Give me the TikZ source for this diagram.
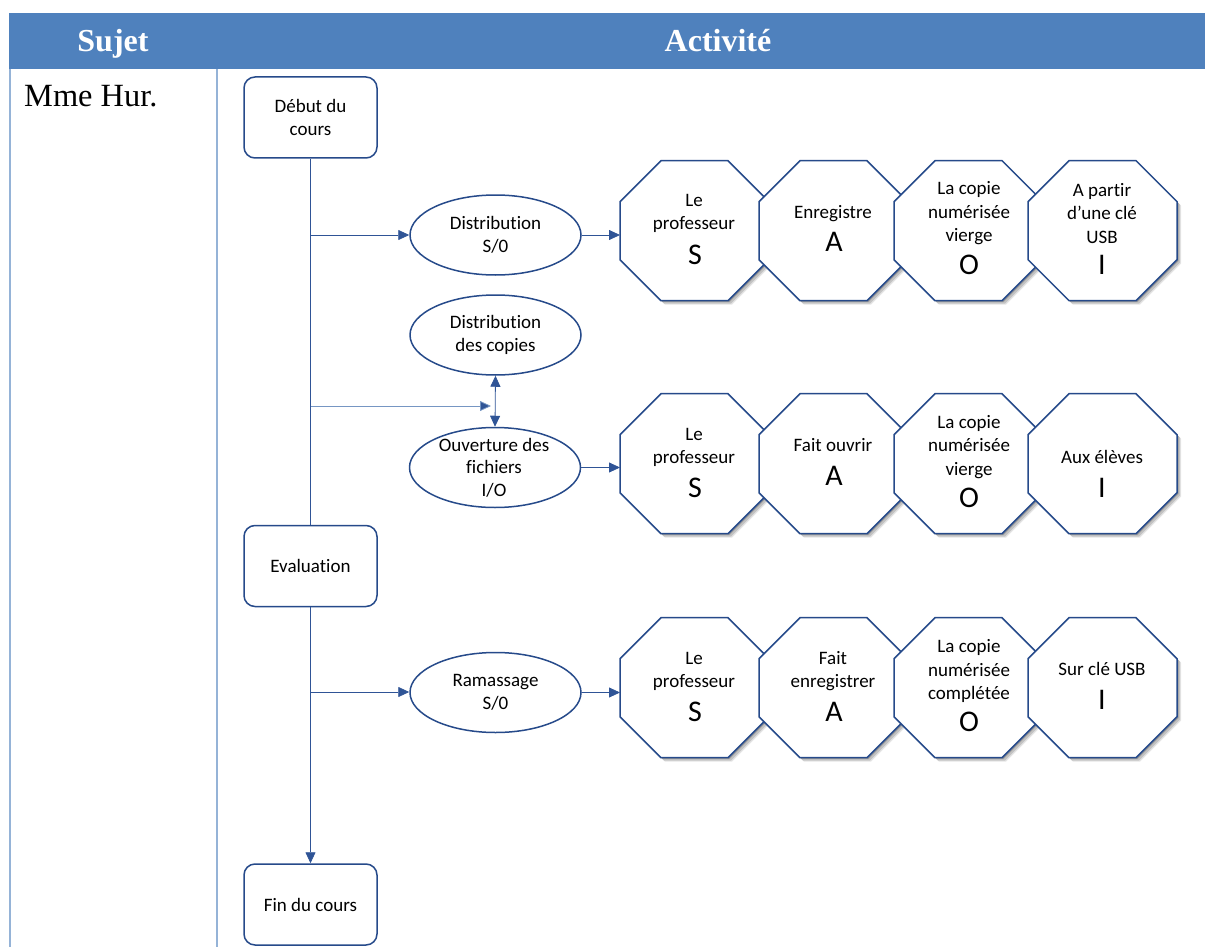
\documentclass[tikz,border=0pt]{standalone}
\usepackage{fontspec}
\setmainfont{Liberation Serif}
\newfontfamily\calfont[Ligatures=NoCommon]{Carlito}
\usetikzlibrary{shapes.geometric,shadows,arrows.meta}
\definecolor{hdr}{HTML}{4F81BD}
\definecolor{rulec}{HTML}{95B3D7}
\definecolor{edgec}{HTML}{2F5496}
\definecolor{outl}{HTML}{264A8A}
\tikzset{
  boxn/.style={draw=outl,line width=1.5pt,fill=white,rounded corners=11pt,minimum width=133pt,minimum height=81pt,inner sep=0pt,align=center,font=\calfont\fontsize{19}{23.5}\selectfont},
  ell/.style={ellipse,draw=outl,line width=1.5pt,fill=white,minimum width=171pt,minimum height=80pt,inner sep=0pt,align=center,font=\calfont\fontsize{19}{23.5}\selectfont},
  octframe/.style={rectangle,minimum width=149pt,minimum height=140pt,inner sep=0pt,outer sep=0pt},
  octline/.style={draw=outl,line width=1.5pt,fill=white,
    drop shadow={shadow xshift=4pt,shadow yshift=-4pt,fill=black,opacity=.10},
    drop shadow={shadow xshift=3pt,shadow yshift=-3pt,fill=black,opacity=.15},
    drop shadow={shadow xshift=1.5pt,shadow yshift=-1.5pt,fill=black,opacity=.2}},
  otxt/.style={align=center,inner sep=0pt,font=\calfont\fontsize{19}{23.5}\selectfont},
  big/.style={inner sep=0pt,font=\calfont\fontsize{30}{32}\selectfont},
  arr/.style={draw=edgec,line width=.8pt,-{Triangle[length=11pt,width=10pt,fill=edgec]}},
  lin/.style={draw=edgec,line width=.8pt},
  tb/.style={draw=rulec,line width=1.5pt},
  hd/.style={text=white,inner sep=0pt,font=\bfseries\fontsize{32}{36}\selectfont}
}
\begin{document}
\begin{tikzpicture}[x=1pt,y=-1pt]
\useasboundingbox (0,0) rectangle (1205,947);
\fill[hdr] (9,13) rectangle (1205,69);
\node[hd] (sujet) at (113,44) {Sujet};
\node[hd] (activite) at (718,41) {Activité};
\draw[tb] (10,69) -- (10,947);
\draw[tb] (217,69) -- (217,947);
\node[inner sep=0pt,anchor=west,font=\fontsize{32.4}{36}\selectfont] (mme) at (24,96) {Mme Hur.};

\node[boxn] (deb) at (310.5,117.5) {Début du\\cours};
\node[boxn] (eva) at (310.5,566) {Evaluation};
\node[boxn] (fin) at (310.5,904.5) {Fin du cours};

\node[ell] (e1) at (495.5,235) {Distribution\\S/0};
\node[ell] (e2) at (495.5,335) {Distribution\\des copies};
\node[ell] (e3) at (495,467.5) {};
\node[otxt,font=\calfont\fontsize{19}{22.5}\selectfont] (e3t) at (494,467.5) {Ouverture des\\fichiers\\I/O};
\node[ell] (e4) at (495.5,692.5) {Ramassage\\S/0};

\coordinate (b1) at (311,235);
\coordinate (b2) at (311,406);
\coordinate (b3) at (311,692);
\coordinate (b2e) at (491,406);

\draw[lin] (deb) -- (eva);
\draw[arr] (eva) -- (fin);
\draw[arr] (b1) -- (e1.west |- b1);
\draw[arr,draw=rulec!70!edgec] (b2) -- (b2e);
\draw[arr] (b3) -- (e4.west |- b3);
\draw[arr,{Triangle[length=11pt,width=10pt,fill=edgec]}-{Triangle[length=11pt,width=10pt,fill=edgec]}] (e2.south) -- (e3.north);

\foreach \n/\x/\y in {a1/694.5/230.7,a2/833.5/230.7,a3/968.5/230.7,a4/1102.5/230.7,
                      b1o/694.5/463.7,b2o/833.5/463.7,b3o/968.5/463.7,b4o/1102.5/463.7,
                      c1/694.5/687.7,c2/833.5/687.7,c3/968.5/687.7,c4/1102.5/687.7}
  {\node[octframe] (\n) at (\x,\y) {};
   \path[octline] ([yshift=29pt]\n.west) -- ([xshift=-33.5pt]\n.north) -- ([xshift=33.5pt]\n.north)
     -- ([yshift=29pt]\n.east) -- ([yshift=-29pt]\n.east) -- ([xshift=33.5pt]\n.south)
     -- ([xshift=-33.5pt]\n.south) -- ([yshift=-29pt]\n.west) -- cycle;}

\draw[arr] (e1) -- (a1.west |- e1);
\draw[arr] (e3) -- (b1o.west |- e3);
\draw[arr] (e4) -- (c1.west |- e4);

\node[otxt] at (694,213.5) {Le\\professeur};
\node[big] at (695,255) {S};
\node[otxt] at (833,214) {Enregistre};
\node[big] at (834,242) {A};
\node[otxt] at (969,213.5) {La copie\\numérisée\\vierge};
\node[big] at (969,265) {O};
\node[otxt] at (1102,213.5) {A partir\\d’une clé\\USB};
\node[big] at (1102,265) {I};

\node[otxt] at (694,447.5) {Le\\professeur};
\node[big] at (695,488) {S};
\node[otxt] at (833,445) {Fait ouvrir};
\node[big] at (834,476) {A};
\node[otxt] at (969,447) {La copie\\numérisée\\vierge};
\node[big] at (969,498) {O};
\node[otxt] at (1102,457) {Aux élèves};
\node[big] at (1102,488) {I};

\node[otxt] at (694,671.5) {Le\\professeur};
\node[big] at (695,712) {S};
\node[otxt] at (833,671) {Fait\\enregistrer};
\node[big] at (834,712) {A};
\node[otxt] at (969,671) {La copie\\numérisée\\complétée};
\node[big] at (969,722) {O};
\node[otxt] at (1102,669) {Sur clé USB};
\node[big] at (1102,700) {I};
\end{tikzpicture}
\end{document}
